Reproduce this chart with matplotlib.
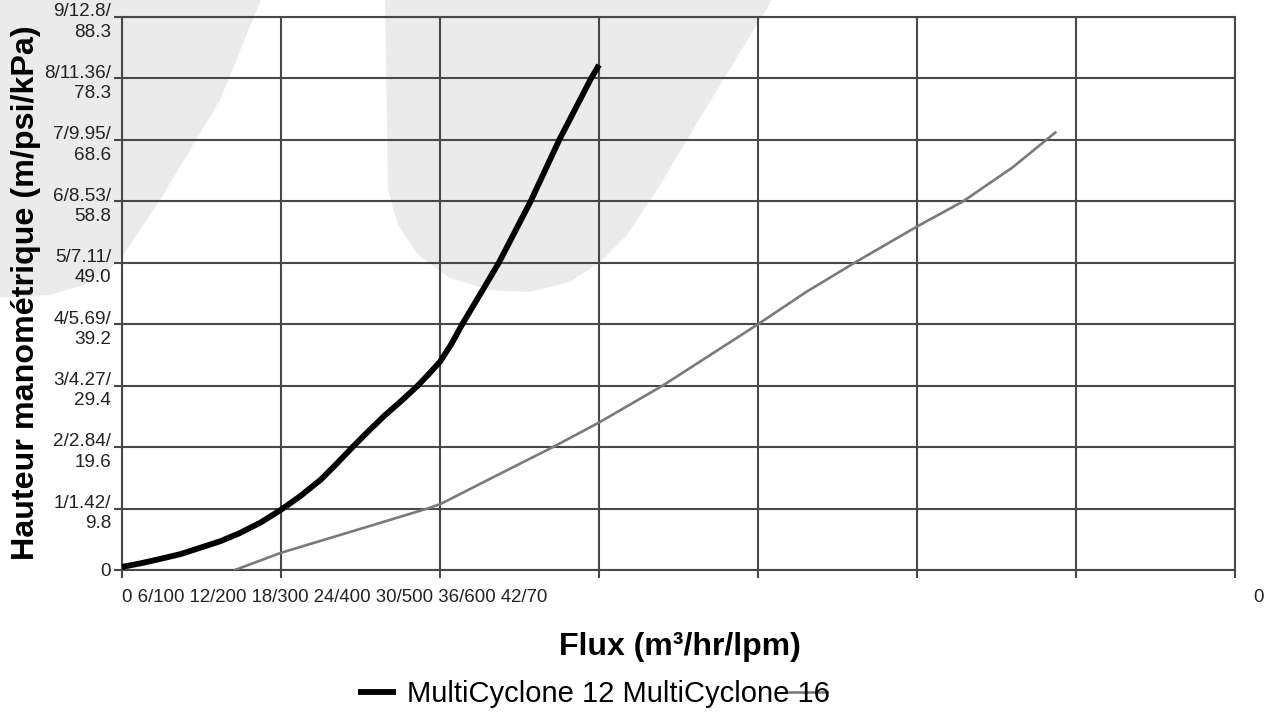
import matplotlib
matplotlib.use("Agg")
import matplotlib.pyplot as plt
from matplotlib.patches import Polygon
from matplotlib.lines import Line2D
from matplotlib.transforms import Affine2D, IdentityTransform, ScaledTranslation, blended_transform_factory

plt.rcParams['font.family'] = ['Liberation Sans', 'DejaVu Sans']

# flow in grid units (one vertical grid line = one unit), head in metres
mc12_x = [0, 0.12, 0.24, 0.37, 0.49, 0.62, 0.74, 0.87, 1.0, 1.12, 1.25, 1.35, 1.45, 1.55,
          1.65, 1.76, 1.86, 1.93, 2.0, 2.07, 2.14, 2.26, 2.37, 2.47, 2.57, 2.66, 2.75, 2.85, 2.95, 3.0]
mc12_y = [0.05, 0.11, 0.18, 0.26, 0.36, 0.47, 0.6, 0.77, 0.98, 1.2, 1.47, 1.73, 2.0, 2.26,
          2.51, 2.76, 3.0, 3.19, 3.39, 3.67, 4.0, 4.52, 5.0, 5.5, 6.0, 6.5, 7.0, 7.5, 8.0, 8.22]
mc16_x = [0.71, 1.0, 1.5, 1.92, 2.0, 2.35, 2.71, 3.0, 3.4, 4.0, 4.3, 4.62, 5.0, 5.29, 5.6, 5.87]
mc16_y = [0, 0.28, 0.67, 1.0, 1.07, 1.53, 2.0, 2.4, 3.0, 4.0, 4.52, 5.02, 5.59, 6.0, 6.55, 7.12]
series_names = ['MultiCyclone 12', 'MultiCyclone 16']

y_ticks = [0, 1, 2, 3, 4, 5, 6, 7, 8, 9]
y_labels = ['0', '1/1.42/\n9.8', '2/2.84/\n19.6', '3/4.27/\n29.4', '4/5.69/\n39.2',
            '5/7.11/\n49.0', '6/8.53/\n58.8', '7/9.95/\n68.6', '8/11.36/\n78.3', '9/12.8/\n88.3']
x_ticks = [0, 1, 2, 3, 4, 5, 6, 7]
x_label_text = '0 6/100 12/200 18/300 24/400 30/500 36/600 42/70'
x_label_end = '0'

W, H = 1271, 712
grid_col = '#484848'

fig = plt.figure(figsize=(W / 100, H / 100), dpi=100)
fig.patch.set_facecolor('white')

# light grey watermark shapes behind the chart (pixel coords, y down)
px = Affine2D().scale(1, -1).translate(0, H)
left_shape = [(-5, -5), (263, -5), (220, 100), (160, 200), (120, 260), (90, 283), (50, 295), (-5, 298)]
mid_shape = [(385, -5), (775, -5), (700, 118), (660, 185), (627, 235), (600, 262), (570, 282),
             (530, 292), (490, 290), (450, 278), (418, 255), (398, 225), (388, 190)]
for shp in (left_shape, mid_shape):
    fig.patches.append(Polygon(shp, closed=True, transform=px, facecolor='#ebebeb',
                               edgecolor='none', zorder=-10))

ax = fig.add_axes([122 / W, (H - 570) / H, (1235 - 122) / W, (570 - 17) / H])
ax.set_zorder(1)
ax.patch.set_alpha(0)

ax.plot(mc12_x, mc12_y, color='black', lw=4.2, solid_capstyle='butt', zorder=3)
ax.plot(mc16_x, mc16_y, color='#7a7a7a', lw=1.9, zorder=3)

ax.set_xlim(0, 7)
ax.set_ylim(0, 9)
ax.set_xticks(x_ticks)
ax.set_yticks(y_ticks)
ax.set_xticklabels([])
ax.set_yticklabels([])
ax.grid(True, color=grid_col, lw=1.5)
ax.tick_params(axis='both', direction='out', length=6, width=1.5, color=grid_col)
for sp in ax.spines.values():
    sp.set_color(grid_col)
    sp.set_linewidth(1.5)

# y tick labels, first line sitting at the grid line
ytrans = blended_transform_factory(ax.transAxes, ax.transData)
for v, lab in zip(y_ticks, y_labels):
    dy = -5 if '\n' in lab else -1
    ax.text(0, v, lab, ha='right', va='center', ma='right', fontsize=13.6, color='#222222',
            linespacing=1.25,
            transform=ytrans + ScaledTranslation(-11 / 100, dy / 100, fig.dpi_scale_trans))

xtrans = blended_transform_factory(ax.transData, ax.transAxes)
ax.text(x_ticks[0], 0, x_label_text, ha='left', va='center', fontsize=13.4, color='#222222',
        transform=xtrans + ScaledTranslation(0, -28 / 100, fig.dpi_scale_trans))
ax.text(x_ticks[-1], 0, x_label_end, ha='center', va='center', fontsize=13.4, color='#222222',
        transform=xtrans + ScaledTranslation(24 / 100, -28 / 100, fig.dpi_scale_trans))

fig.text(26 / W, (H - 293) / H, 'Hauteur manométrique (m/psi/kPa)', rotation=90,
         ha='center', va='center', fontsize=23.2, fontweight='bold')
fig.text(680 / W, (H - 647) / H, 'Flux (m³/hr/lpm)', ha='center', va='center',
         fontsize=23, fontweight='bold')

h12 = Line2D([], [], color='black', lw=4.2, solid_capstyle='butt')
leg = fig.legend([h12], [' '.join(series_names)], loc='center',
                 bbox_to_anchor=(594 / W, (H - 694) / H), frameon=False, fontsize=21,
                 handlelength=1.3, handletextpad=0.4, borderpad=0)

# the second series handle lands over the end of the text in the original
fig.canvas.draw()
r = fig.canvas.get_renderer()
tb = leg.get_texts()[0].get_window_extent(r)
hb = leg.legend_handles[0].get_window_extent(r)
hy = (hb.y0 + hb.y1) / 2
hl = hb.x1 - hb.x0
fig.add_artist(Line2D([tb.x1 - 3 - hl, tb.x1 - 3], [hy, hy], color='#7a7a7a', lw=1.9,
                      transform=IdentityTransform()))

fig.savefig('out.png', dpi=100)
